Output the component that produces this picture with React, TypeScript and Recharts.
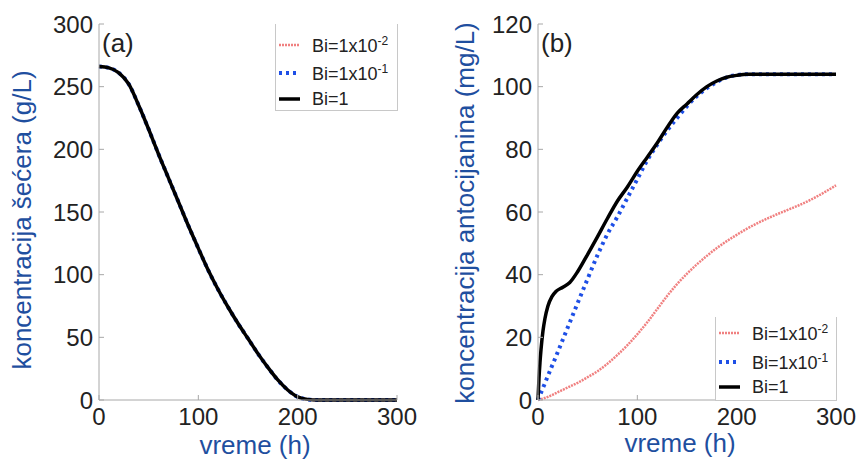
import { Legend, Line, LineChart, XAxis, YAxis } from 'recharts'

// (a) sugar concentration, all three Bi curves coincide
const sugarTime = [0, 10, 20, 30, 40, 50, 60, 70, 80, 90, 100, 110, 120, 130, 140, 150, 160, 170, 180, 190, 200, 210, 220, 300]
const sugarBi1 = [266, 265, 261, 252, 235, 216, 196, 177, 158, 139, 121, 103.5, 88, 74, 61, 49, 37, 26, 16, 8, 2.5, 0.5, 0, 0]

// (b) anthocyanin concentration
const redTime = [0, 10, 20, 30, 40, 50, 60, 70, 80, 90, 100, 110, 120, 130, 140, 150, 160, 170, 180, 190, 200, 210, 220, 230, 240, 250, 260, 270, 280, 290, 300]
const anthBi001 = [0, 1, 2.5, 4, 5.5, 7.3, 9.2, 11.6, 14.4, 17.5, 21, 24.8, 29, 33.2, 37, 40.3, 43.3, 46, 48.5, 50.7, 52.7, 54.6, 56.3, 57.8, 59.2, 60.5, 61.8, 63.2, 64.8, 66.6, 68.5]
const blueTime = [0, 10, 20, 30, 40, 50, 60, 70, 80, 90, 100, 110, 120, 130, 140, 150, 160, 170, 180, 190, 200, 210, 300]
const anthBi01 = [0, 7.7, 15.4, 23.2, 31, 38.7, 46.3, 53, 58.5, 64.5, 70.5, 76.5, 81.5, 86, 90, 93.8, 97, 99.5, 101.5, 103, 103.7, 104, 104]
const blackTime = [0, 1, 2, 3, 5, 7, 10, 14, 18, 25, 32, 40, 50, 58, 70, 80, 90, 100, 110, 120, 130, 140, 150, 160, 170, 180, 190, 200, 210, 220, 300]
const anthBi1 = [0, 7, 12, 16, 22, 26, 30, 33, 34.6, 36, 37.5, 41, 46.5, 51, 58, 63.5, 68, 73, 77.5, 82, 87, 91.5, 94.5, 97.5, 100, 101.8, 103, 103.6, 104, 104, 104]

const xTicks = [0, 100, 200, 300]
const sugarTicks = [0, 50, 100, 150, 200, 250, 300]
const anthTicks = [0, 20, 40, 60, 80, 100, 120]

const FONT = '"Liberation Sans", Arial, sans-serif'
const TITLE_COLOR = '#1f4f9f'
const BOX = '#a8a8a8'

const series = [
  { key: 'bi001', base: 'Bi=1x10', exp: '-2', color: '#f08080', width: 2.5, dash: '2 1' },
  { key: 'bi01', base: 'Bi=1x10', exp: '-1', color: '#1e4fe6', width: 4, dash: '3 4' },
  { key: 'bi1', base: 'Bi=1', exp: '', color: '#000000', width: 3.5, dash: undefined },
]

const toPoints = (xs: number[], ys: number[]) => xs.map((t, i) => ({ t, v: ys[i] }))

const tickStyle = { fontSize: 24, fill: '#222', fontFamily: FONT }

function LegendBox({ rows }: { rows: number[] }) {
  return (
    <div style={{ position: 'relative', width: '100%', height: '100%', fontFamily: FONT }}>
      {series.map((s, i) => (
        <div key={s.key} style={{ position: 'absolute', left: 2, top: rows[i] - 10, height: 20, display: 'flex', alignItems: 'center' }}>
          <svg width={24} height={8} style={{ marginRight: 10 }}>
            <line x1={1} x2={22} y1={4} y2={4} stroke={s.color} strokeWidth={s.width} strokeDasharray={s.dash} />
          </svg>
          <span style={{ fontSize: 18, color: '#222', whiteSpace: 'nowrap' }}>
            {s.base}
            {s.exp && <sup style={{ fontSize: 12 }}>{s.exp}</sup>}
          </span>
        </div>
      ))}
    </div>
  )
}

const yTitle = (text: string, cx: number, cy: number) => () => (
  <text x={cx} y={cy} transform={`rotate(-90 ${cx} ${cy})`} textAnchor="middle" dominantBaseline="central" fontSize={26} fill={TITLE_COLOR} fontFamily={FONT}>
    {text}
  </text>
)

const xTitle = (cx: number, by: number) => () => (
  <text x={cx} y={by} textAnchor="middle" fontSize={26} fill={TITLE_COLOR} fontFamily={FONT}>
    vreme (h)
  </text>
)

interface PanelProps {
  width: number
  yWidth: number
  right: number
  yTicks: number[]
  yMax: number
  lines: { t: number; v: number }[][]
  title: string
  titleX: number
  titleY: number
  xTitleX: number
  xTitleY: number
  legend: { left: number; top: number; width: number; height: number; rows: number[] }
}

function Panel(p: PanelProps) {
  return (
    <LineChart width={p.width} height={459} margin={{ top: 24, right: p.right, bottom: 0, left: 0 }}>
      <XAxis xAxisId={0} dataKey="t" type="number" domain={[0, 300]} ticks={xTicks} height={59}
        stroke={BOX} tickSize={-5} tickMargin={13} tick={tickStyle} allowDuplicatedCategory={false}
        label={xTitle(p.xTitleX, p.xTitleY)} />
      <XAxis xAxisId="top" orientation="top" type="number" domain={[0, 300]} ticks={xTicks} height={0}
        stroke={BOX} tickSize={-5} tick={false} />
      <YAxis yAxisId={0} type="number" domain={[0, p.yMax]} ticks={p.yTicks} width={p.yWidth}
        stroke={BOX} tickSize={-5} tickMargin={11} tick={tickStyle}
        label={yTitle(p.title, p.titleX, p.titleY)} />
      <YAxis yAxisId="right" orientation="right" type="number" domain={[0, p.yMax]} ticks={p.yTicks} width={0}
        stroke={BOX} tickSize={-5} tick={false} />
      {series.map((s, i) => (
        <Line key={s.key} data={p.lines[i]} dataKey="v" type="monotone" stroke={s.color} strokeWidth={s.width}
          strokeDasharray={s.dash} dot={false} activeDot={false} isAnimationActive={false} />
      ))}
      <Legend
        layout="horizontal"
        verticalAlign="middle"
        align="center"
        content={() => <LegendBox rows={p.legend.rows} />}
        wrapperStyle={{
          left: p.legend.left, top: p.legend.top, width: p.legend.width, height: p.legend.height,
          background: '#fff', border: '1px solid #c8c8c8', borderTop: 'none', boxSizing: 'border-box',
        }}
      />
    </LineChart>
  )
}

export default function App() {
  const sugar = toPoints(sugarTime, sugarBi1)
  return (
    <div style={{ position: 'relative', width: 861, height: 459, background: '#fff', overflow: 'hidden' }}>
      <style>{'body{margin:0}'}</style>
      <div style={{ position: 'absolute', left: 0, top: 0 }}>
        <Panel width={430} yWidth={99} right={33} yTicks={sugarTicks} yMax={300}
          lines={[sugar, sugar, sugar]}
          title="koncentracija šećera (g/L)" titleX={22} titleY={220} xTitleX={255} xTitleY={454}
          legend={{ left: 275, top: 24, width: 123, height: 87, rows: [21, 49, 75] }} />
      </div>
      <div style={{ position: 'absolute', left: 430, top: 0 }}>
        <Panel width={431} yWidth={108} right={25} yTicks={anthTicks} yMax={120}
          lines={[toPoints(redTime, anthBi001), toPoints(blueTime, anthBi01), toPoints(blackTime, anthBi1)]}
          title="koncentracija antocijanina (mg/L)" titleX={35} titleY={213} xTitleX={250} xTitleY={452}
          legend={{ left: 285, top: 317, width: 122, height: 84, rows: [16, 45, 70] }} />
      </div>
      <svg width={861} height={459} style={{ position: 'absolute', left: 0, top: 0, pointerEvents: 'none' }}>
        <text x={102} y={52} fontSize={26} fill="#222" fontFamily={FONT}>(a)</text>
        <text x={541} y={52} fontSize={26} fill="#222" fontFamily={FONT}>(b)</text>
      </svg>
    </div>
  )
}
